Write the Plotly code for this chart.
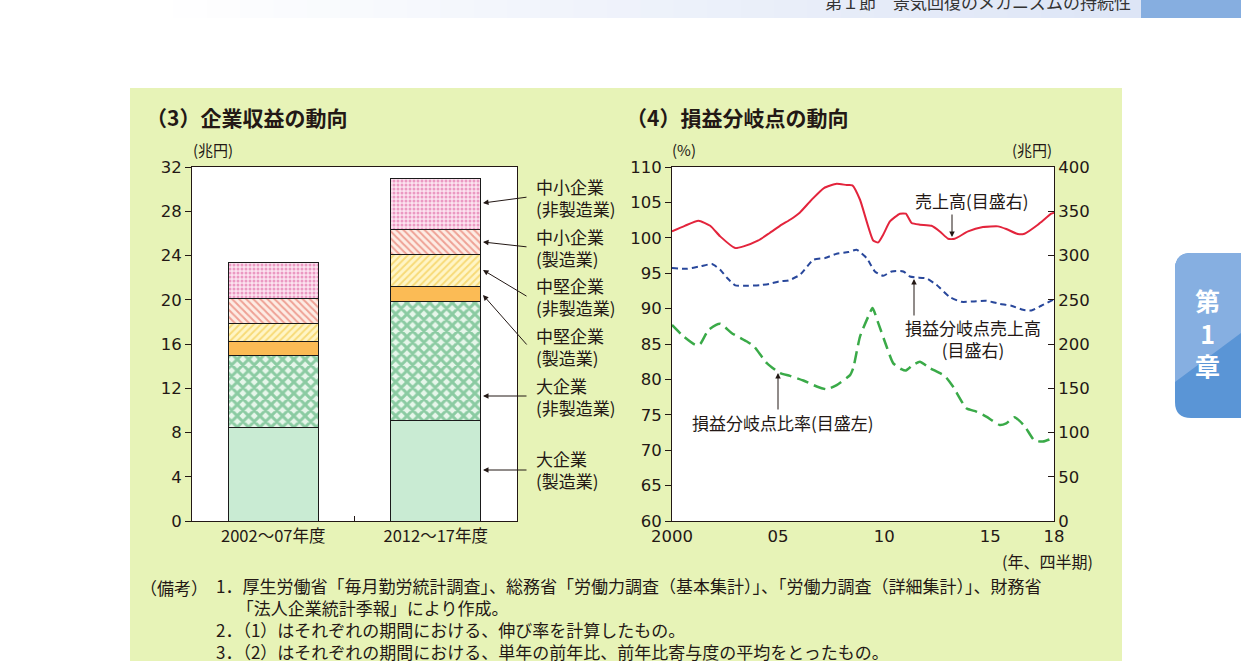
import plotly.graph_objects as go

W, H = 1241, 661
JP = "Noto Sans CJK JP"
NUM = "DejaVu Sans"

# (3) 企業収益の動向 (兆円)
periods = ["2002～07年度", "2012～17年度"]
large_mfg = [8.47, 9.11]
large_nonmfg = [6.52, 10.76]
mid_mfg = [1.26, 1.36]
mid_nonmfg = [1.63, 2.90]
small_mfg = [2.26, 2.26]
small_nonmfg = [3.26, 4.61]
segment_names = ["大企業<br>(製造業)", "大企業<br>(非製造業)", "中堅企業<br>(製造業)",
                 "中堅企業<br>(非製造業)", "中小企業<br>(製造業)", "中小企業<br>(非製造業)"]

# (4) 損益分岐点の動向 (四半期)
sales_x = [2000.0, 2000.6, 2001.25, 2001.8, 2002.27, 2002.98, 2003.37, 2004.07, 2004.6,
           2005.17, 2005.56, 2006.03, 2006.58, 2007.16, 2007.76, 2008.23, 2008.5, 2008.86,
           2009.48, 2009.72, 2009.95, 2010.27, 2010.74, 2011.02, 2011.29, 2011.68, 2012.23,
           2012.62, 2013.01, 2013.32, 2013.95, 2014.65, 2015.36, 2015.75, 2016.3, 2016.61,
           2017.24, 2017.87, 2018.0]
sales = [327.2, 333.5, 339.3, 333.6, 321.6, 308.4, 310.3, 317.0, 325.4,
         334.8, 340.4, 348.7, 363.0, 376.2, 381.1, 379.6, 379.3, 363.0,
         317.0, 314.8, 323.5, 338.5, 347.2, 347.2, 336.7, 334.8, 333.6,
         327.2, 318.9, 318.9, 327.2, 332.1, 332.9, 329.9, 324.2, 324.6,
         334.8, 347.2, 348.5]

bep_sales_x = [2000.0, 2000.7, 2001.33, 2001.88, 2002.27, 2002.6, 2002.98, 2003.37, 2004.15,
               2004.62, 2005.1, 2005.49, 2006.03, 2006.66, 2007.21, 2007.76, 2008.31, 2008.7,
               2009.17, 2009.56, 2009.95, 2010.35, 2010.9, 2011.21, 2011.52, 2011.99, 2012.46,
               2013.09, 2013.64, 2014.18, 2014.81, 2015.44, 2015.99, 2016.54, 2016.93, 2017.4,
               2018.0]
bep_sales = [285.8, 285.0, 287.7, 290.3, 283.9, 274.5, 266.2, 265.8, 266.5,
             268.0, 271.0, 271.8, 278.2, 295.2, 297.1, 302.0, 303.9, 306.5,
             297.1, 282.0, 277.1, 282.0, 282.0, 276.3, 275.2, 274.1, 266.9,
             253.0, 247.7, 248.1, 248.8, 245.4, 243.2, 238.6, 237.9, 243.2,
             250.5]

bep_ratio_x = [2000.0, 2000.55, 2001.1, 2001.33, 2001.72, 2002.27, 2002.82, 2003.53, 2003.84,
               2004.47, 2005.09, 2005.56, 2006.19, 2006.82, 2007.29, 2007.76, 2008.39, 2008.54,
               2008.86, 2009.25, 2009.45, 2009.72, 2010.11, 2010.42, 2010.81, 2011.02, 2011.36,
               2011.68, 2012.15, 2012.85, 2013.24, 2013.87, 2014.34, 2014.81, 2015.44, 2015.75,
               2016.14, 2016.61, 2017.08, 2017.48, 2018.0]
bep_ratio = [87.7, 86.06, 84.88, 85.0, 87.0, 87.85, 86.53, 85.35, 84.74,
             82.3, 80.88, 80.5, 79.84, 79.0, 78.6, 79.2, 80.6, 81.6,
             86.06, 88.9, 90.07, 87.95, 84.65, 82.3, 81.44, 81.25, 82.05,
             82.5, 81.6, 80.5, 79.0, 75.93, 75.46, 74.75, 73.57, 73.8,
             74.66, 73.43, 71.36, 71.22, 71.75]

year_ticks = [2000, 2005, 2010, 2015, 2018]
year_labels = ["2000", "05", "10", "15", "18"]

notes = [
    "1．厚生労働省「毎月勤労統計調査」、総務省「労働力調査（基本集計）」、「労働力調査（詳細集計）」、財務省",
    "　 「法人企業統計季報」により作成。",
    "2．（1）はそれぞれの期間における、伸び率を計算したもの。",
    "3．（2）はそれぞれの期間における、単年の前年比、前年比寄与度の平均をとったもの。",
]


def px(x):
    return x / W


def py(y):
    return 1 - y / H


fig = go.Figure()

bar_styles = [
    dict(color="#c9ebd3"),
    dict(color="#e6f6ea", pattern=dict(shape="x", fgcolor="#2f9f5a", bgcolor="#e6f6ea", size=8, solidity=0.6)),
    dict(color="#fbbb55"),
    dict(color="#fff5c6", pattern=dict(shape="/", fgcolor="#f0c02a", bgcolor="#fff5c6", size=5, solidity=0.4)),
    dict(color="#fde8df", pattern=dict(shape="\\", fgcolor="#e05545", bgcolor="#fdece4", size=5, solidity=0.4)),
    dict(color="#fbe3ef", pattern=dict(shape=".", fgcolor="#dc5096", bgcolor="#fbe3ef", size=4, solidity=0.45)),
]
for name, vals, style in zip(segment_names,
                             [large_mfg, large_nonmfg, mid_mfg, mid_nonmfg, small_mfg, small_nonmfg],
                             bar_styles):
    fig.add_trace(go.Bar(x=periods, y=vals, name=name, width=0.554,
                         marker=dict(line=dict(color="#1a1a1a", width=1), **style),
                         xaxis="x", yaxis="y", hoverinfo="y"))

fig.add_trace(go.Scatter(x=bep_ratio_x, y=bep_ratio, mode="lines", name="損益分岐点比率",
                         line=dict(color="#3aaa48", width=2.5, dash="12px,6px", shape="spline", smoothing=0.5),
                         xaxis="x2", yaxis="y2"))
fig.add_trace(go.Scatter(x=bep_sales_x, y=bep_sales, mode="lines", name="損益分岐点売上高",
                         line=dict(color="#28479b", width=2, dash="6px,4px", shape="spline", smoothing=0.5),
                         xaxis="x2", yaxis="y3"))
fig.add_trace(go.Scatter(x=sales_x, y=sales, mode="lines", name="売上高",
                         line=dict(color="#e3243c", width=2, shape="spline", smoothing=0.5),
                         xaxis="x2", yaxis="y3"))

numfont = dict(family=NUM, size=16.5, color="#231815")
axis_common = dict(showline=True, linecolor="#231815", linewidth=1, tickcolor="#231815",
                   showgrid=False, zeroline=False, tickfont=numfont, automargin=False)
ydom = [py(521), py(167)]

fig.update_layout(
    width=W, height=H, margin=dict(l=0, r=0, t=0, b=0), autosize=False,
    paper_bgcolor="white", plot_bgcolor="white", showlegend=False, barmode="stack",
    xaxis=dict(domain=[px(192), px(517)], type="category", range=[-0.5, 1.5], mirror=True,
               ticks="inside", ticklen=5, tickson="boundaries", anchor="y", **axis_common),
    yaxis=dict(domain=ydom, range=[0, 32], dtick=4, ticks="outside", ticklen=6, mirror=True,
               anchor="x", **axis_common),
    xaxis2=dict(domain=[px(672), px(1054)], range=[2000, 2018], tickvals=year_ticks, ticktext=year_labels,
                ticks="", mirror=True, anchor="y2", **axis_common),
    yaxis2=dict(domain=ydom, range=[60, 110], dtick=5, ticks="outside", ticklen=6, anchor="x2",
                **axis_common),
    yaxis3=dict(range=[0, 400], dtick=50, ticks="inside", ticklen=6, side="right", overlaying="y2",
                anchor="x2", **axis_common),
)
fig.update_xaxes(tickfont=dict(family=JP, size=16.5, color="#231815"), selector=dict(type="category"))

shapes = []
# header strip
steps = 30
for i in range(steps):
    t = i / (steps - 1)
    c = tuple(int(round(255 + (e - 255) * t)) for e in (221, 229, 246))
    x0 = 140 + (1141 - 140) * i / steps
    x1 = 140 + (1141 - 140) * (i + 1) / steps + 1
    shapes.append(dict(type="rect", xref="paper", yref="paper", x0=px(x0), x1=px(x1), y0=py(18), y1=1,
                       fillcolor="rgb(%d,%d,%d)" % c, line=dict(width=0), layer="below"))
shapes.append(dict(type="rect", xref="paper", yref="paper", x0=px(1141), x1=1, y0=py(18), y1=1,
                   fillcolor="#86aee0", line=dict(width=0), layer="below"))
# green panel and white plot areas
shapes.append(dict(type="rect", xref="paper", yref="paper", x0=px(130), x1=px(1122), y0=0, y1=py(88),
                   fillcolor="#e7f3b7", line=dict(width=0), layer="below"))
for a, b in [(192, 517), (672, 1054)]:
    shapes.append(dict(type="rect", xref="paper", yref="paper", x0=px(a), x1=px(b), y0=py(521), y1=py(167),
                       fillcolor="white", line=dict(width=0), layer="below"))

# chapter tab
r = 16
full = "M %f %f L %f %f L %f %f Q %f %f %f %f L %f %f Q %f %f %f %f Z" % (
    px(1241), py(253), px(1241), py(418), px(1175 + r), py(418),
    px(1175), py(418), px(1175), py(418 - r), px(1175), py(253 + r),
    px(1175), py(253), px(1175 + r), py(253))
shapes.append(dict(type="path", xref="paper", yref="paper", path=full, fillcolor="#5a95d6",
                   line=dict(width=0), layer="below"))
upper = "M %f %f L %f %f L %f %f L %f %f Q %f %f %f %f Z" % (
    px(1241), py(253), px(1241), py(333), px(1175), py(382), px(1175), py(253 + r),
    px(1175), py(253), px(1175 + r), py(253))
shapes.append(dict(type="path", xref="paper", yref="paper", path=upper, fillcolor="#86afe1",
                   line=dict(width=0), layer="below"))
fig.update_layout(shapes=shapes)

ann = []


def text(x, y, s, size=15, xanchor="center", bold=False, color="#231815", align="left", yanchor="middle"):
    ann.append(dict(x=px(x), y=py(y), xref="paper", yref="paper", text=("<b>%s</b>" % s) if bold else s,
                    showarrow=False, xanchor=xanchor, yanchor=yanchor, align=align,
                    font=dict(family=JP, size=size, color=color)))


def arrow(hx, hy, tx, ty):
    ann.append(dict(x=px(hx), y=py(hy), xref="paper", yref="paper", ax=tx - hx, ay=ty - hy,
                    axref="pixel", ayref="pixel", text="", showarrow=True, arrowhead=2,
                    arrowsize=1.1, arrowwidth=1, arrowcolor="#231815"))


text(1133, 1, "第１節　景気回復のメカニズムの持続性", size=17, xanchor="right", color="#333333")
text(1207, 332, "第<br>1<br>章", size=25, bold=True, color="white", align="center")

text(144, 117, "（3）企業収益の動向", size=21, xanchor="left", bold=True)
text(624, 117, "（4）損益分岐点の動向", size=21, xanchor="left", bold=True)
text(213, 149, "(兆円)", size=15)
text(684, 149, "(%)", size=15)
text(1032, 149, "(兆円)", size=15)
text(1047, 561, "(年、四半期)", size=16)

label_y = [470, 396, 346, 297, 247, 197]
head_y = [470, 396, 295, 270, 242, 203]
for name, ly, hy in zip(segment_names, label_y, head_y):
    text(534, ly, name, size=17, xanchor="left")
    arrow(483, hy, 528, ly)

text(972, 201, "売上高(目盛右)", size=17)
arrow(952, 237, 952, 213)
text(973, 338, "損益分岐点売上高<br>(目盛右)", size=17, align="center")
arrow(914, 279, 914, 317)
text(783, 422, "損益分岐点比率(目盛左)", size=17)
arrow(778, 373, 778, 411)

text(138, 587, "（備考）", size=17, xanchor="left")
text(214, 618, "<br>".join(notes), size=17, xanchor="left")

fig.update_layout(annotations=ann)
fig.write_html("out.html", config={"displayModeBar": False},
               post_script="document.body.style.margin='0';"
                           "document.documentElement.style.overflow='hidden';")
